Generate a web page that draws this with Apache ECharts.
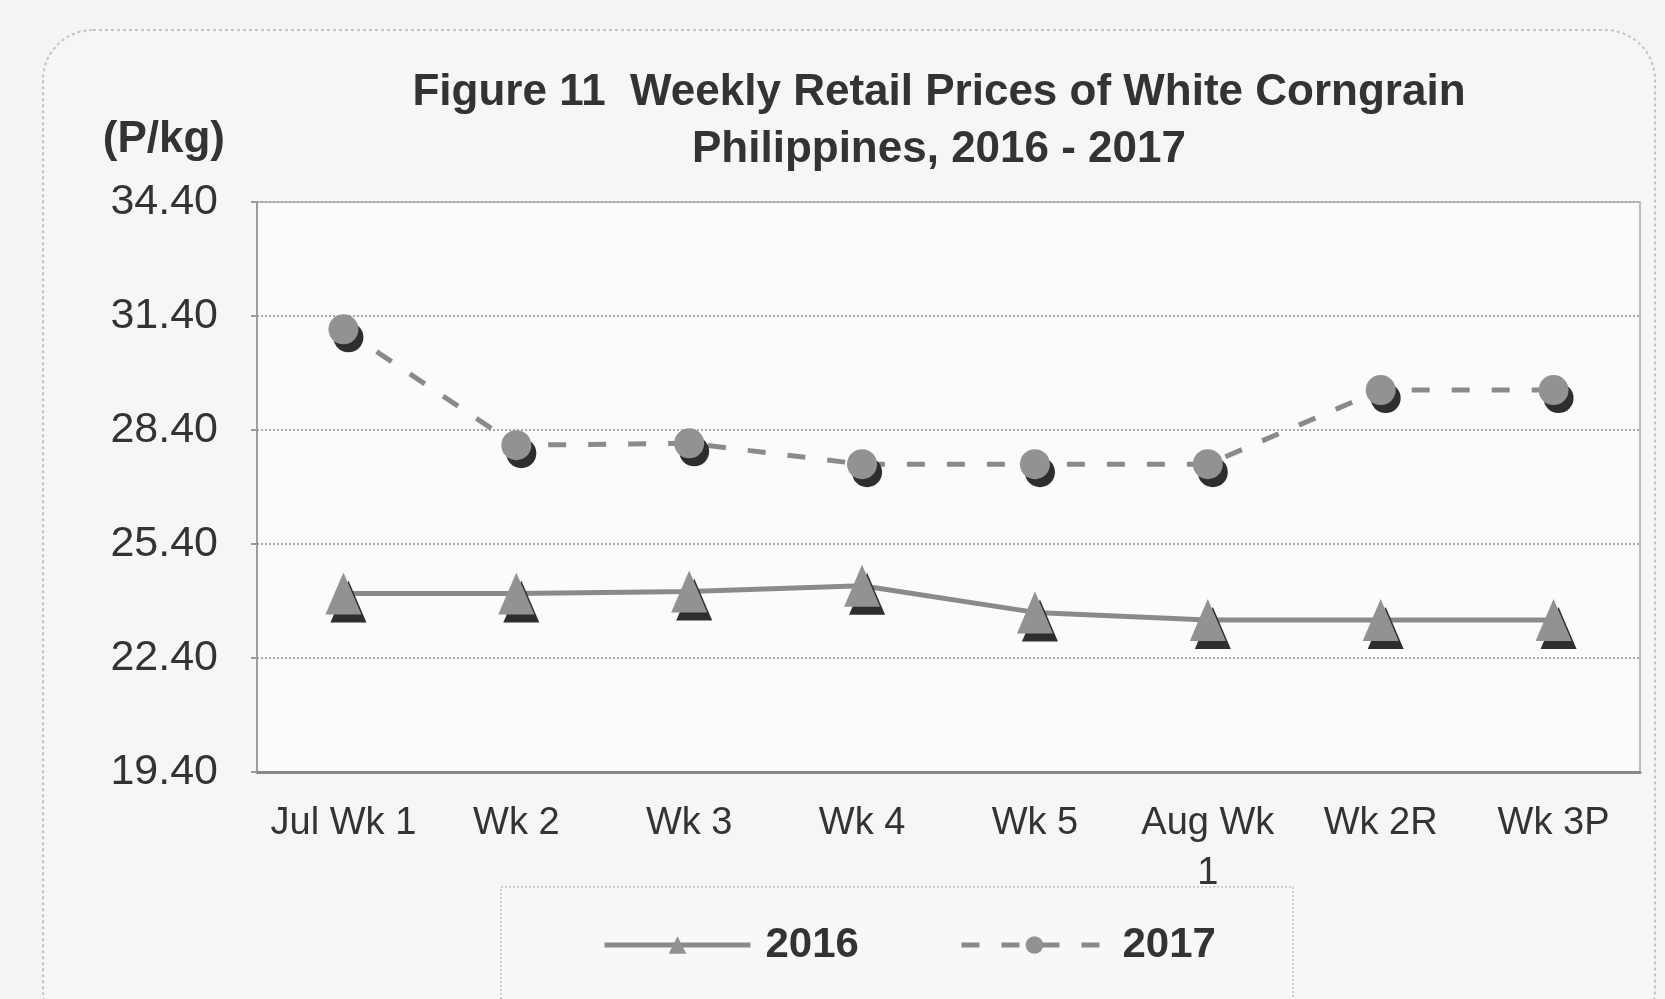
<!DOCTYPE html>
<html>
	<head>
		<meta charset="utf-8">
		<title>Weekly Retail Prices of White Corngrain</title>
		<style type="text/css">
			* {
				margin: 0;
				padding: 0;
			}

			html,
			body {
				width: 100%;
				height: 100%;
				background: #f4f4f4;
			}

			#box1 {
				width: 1665px;
				height: 999px;
			}
		</style>
	</head>
	<body>
		<div id="box1"></div>
		<script type="text/javascript" src="https://cdn.jsdelivr.net/npm/echarts@6/dist/echarts.min.js"></script>
		<script type="text/javascript">
			// weeks on the x axis
			var weeks = ['Jul Wk 1', 'Wk 2', 'Wk 3', 'Wk 4', 'Wk 5', 'Aug Wk\n1', 'Wk 2R', 'Wk 3P']
			// prices in P/kg
			var price2016 = [24.1, 24.1, 24.15, 24.3, 23.6, 23.4, 23.4, 23.4]
			var price2017 = [31.05, 28.0, 28.05, 27.5, 27.5, 27.5, 29.45, 29.45]
			var yMin = 19.4
			var yMax = 34.4
			var yStep = 3

			window.onload = function() {
				charts1()
			}

			function charts1() {
				var myChart1 = echarts.init(document.getElementById('box1'));
				var font = 'Liberation Sans, Arial, sans-serif'
				option1 = {
					backgroundColor: '#f4f4f4',
					textStyle: {
						fontFamily: font
					},
					title: {
						text: 'Figure 11  Weekly Retail Prices of White Corngrain\nPhilippines, 2016 - 2017',
						left: 934,
						top: 59,
						textAlign: 'center',
						textStyle: {
							fontSize: 44,
							fontWeight: 'bold',
							color: '#333',
							lineHeight: 57,
							fontFamily: font
						}
					},
					graphic: [{
						type: 'rect',
						z: -10,
						shape: { x: 43, y: 30, width: 1612, height: 1010, r: 50 },
						style: { fill: '#f6f6f6', stroke: '#c4c4c4', lineWidth: 2, lineDash: [3, 3] }
					}, {
						type: 'rect',
						z: -5,
						shape: { x: 501, y: 887, width: 792, height: 130 },
						style: { fill: '#f8f8f8', stroke: '#cfcfcf', lineWidth: 2, lineDash: [2, 2] }
					}],
					legend: {
						data: ['2016', '2017'],
						left: 597,
						top: 919,
						itemWidth: 146,
						itemHeight: 22,
						itemGap: 100,
						lineStyle: {
							width: 5
						},
						itemStyle: {
							shadowColor: 'rgba(0,0,0,0)',
							shadowOffsetX: 0,
							shadowOffsetY: 0
						},
						textStyle: {
							fontSize: 42,
							fontWeight: 'bold',
							color: '#333',
							padding: [0, 0, 0, 10],
							fontFamily: font
						}
					},
					grid: {
						left: 257,
						right: 25,
						top: 202,
						bottom: 227,
						show: true,
						backgroundColor: '#fbfbfb',
						borderColor: '#b9bdc8',
						borderWidth: 2
					},
					xAxis: {
						type: 'category',
						data: weeks,
						boundaryGap: true,
						axisLine: {
							lineStyle: { color: '#888', width: 3 }
						},
						axisTick: {
							length: 8,
							lineStyle: { color: '#888', width: 2 }
						},
						axisLabel: {
							interval: 0,
							margin: 27,
							fontSize: 38,
							lineHeight: 50,
							color: '#333',
							fontFamily: font
						}
					},
					yAxis: {
						type: 'value',
						min: yMin,
						max: yMax,
						interval: yStep,
						name: '(P/kg)',
						nameLocation: 'end',
						nameGap: 62,
						nameTextStyle: {
							fontSize: 44,
							fontWeight: 'bold',
							color: '#333',
							align: 'right',
							verticalAlign: 'middle',
							padding: [0, 32, 0, 0],
							fontFamily: font
						},
						axisLine: {
							show: true,
							lineStyle: { color: '#999', width: 2, type: 'dotted' }
						},
						axisTick: {
							show: true,
							length: 6,
							lineStyle: { color: '#999', width: 2 }
						},
						splitLine: {
							lineStyle: { color: '#a8a8a8', width: 2, type: 'dotted' }
						},
						axisLabel: {
							margin: 39,
							fontSize: 43,
							color: '#333',
							fontFamily: font,
							formatter: function(v) {
								return v.toFixed(2)
							}
						}
					},
					series: [{
						name: '2016',
						type: 'line',
						data: price2016,
						symbol: 'triangle',
						symbolSize: [36, 42],
						color: '#8e8e8e',
						lineStyle: {
							color: '#8a8a8a',
							width: 5
						},
						itemStyle: {
							color: '#929292',
							shadowColor: '#2e2e2e',
							shadowOffsetX: 5,
							shadowOffsetY: 8,
							shadowBlur: 0
						},
						z: 3
					}, {
						name: '2017',
						type: 'line',
						data: price2017,
						symbol: 'circle',
						symbolSize: 30,
						color: '#8e8e8e',
						lineStyle: {
							color: '#8a8a8a',
							width: 5,
							type: [18, 22]
						},
						itemStyle: {
							color: '#929292',
							shadowColor: '#2e2e2e',
							shadowOffsetX: 5,
							shadowOffsetY: 8,
							shadowBlur: 0
						},
						z: 3
					}]
				};
				myChart1.setOption(option1);
			}
		</script>
	</body>
</html>
